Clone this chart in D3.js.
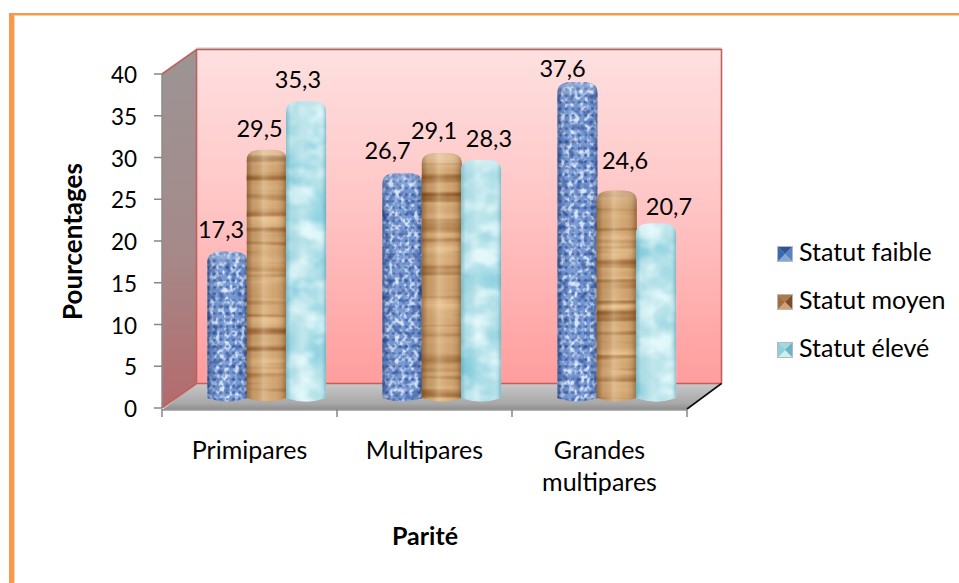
<!DOCTYPE html>
<html><head><meta charset="utf-8">
<style>html,body{margin:0;padding:0;background:#fff;overflow:hidden}svg{display:block}text{font-family:Lato,"Open Sans",sans-serif;fill:#000}</style>
<script src="https://cdn.jsdelivr.net/npm/d3@7/dist/d3.min.js"></script>
</head><body><svg id="c" width="959" height="583"></svg>
<script>
const categories = ["Primipares", "Multipares", "Grandes multipares"];
const seriesNames = ["Statut faible", "Statut moyen", "Statut élevé"];
const statutFaible = [17.3, 26.7, 37.6];
const statutMoyen = [29.5, 29.1, 24.6];
const statutEleve = [35.3, 28.3, 20.7];
const yTicks = [0, 5, 10, 15, 20, 25, 30, 35, 40];

const svg = d3.select("#c");
const defs = svg.append("defs");
const series = [statutFaible, statutMoyen, statutEleve];
const fmt = v => String(v).replace(".", ",");

// plot geometry
const L = 162, R = 687, Y0 = 408, Y40 = 74, DX = 34.5, DY = 24.5;
const y = d3.scaleLinear().domain([0, 40]).range([Y0, Y40]);
const x0 = d3.scaleBand().domain(categories).range([L, R]);
const x1 = d3.scaleBand().domain(seriesNames).range([-59, 59]);
const poly = pts => pts.map(p => p.join(",")).join(" ");

function grad(id, stops, x2, y2) {
  const g = defs.append("linearGradient").attr("id", id).attr("x1", 0).attr("y1", 0).attr("x2", x2).attr("y2", y2);
  stops.forEach(s => g.append("stop").attr("offset", s[0]).attr("stop-color", s[1]).attr("stop-opacity", s[2] === undefined ? 1 : s[2]));
}
grad("wall", [[0, "#fee0e0"], [0.45, "#ffc6c6"], [1, "#ff9d9d"]], 0, 1);
grad("side", [[0, "#9c9494"], [0.55, "#a58a8a"], [1, "#b46a6c"]], 0, 1);
grad("floor", [[0, "#c8c8c8"], [0.75, "#a8a8a8"], [1, "#8c8c8c"]], 0, 1);
grad("shadeB", [[0, "#0a1f55", 0.5], [0.13, "#0a1f55", 0.1], [0.35, "#ffffff", 0.08], [0.7, "#ffffff", 0], [0.88, "#0a1f55", 0.1], [1, "#0a1f55", 0.45]], 1, 0);
grad("shadeW", [[0, "#5a3210", 0.5], [0.16, "#5a3210", 0.1], [0.42, "#fff4dc", 0.25], [0.66, "#fff4dc", 0.04], [0.88, "#5a3210", 0.15], [1, "#5a3210", 0.5]], 1, 0);
grad("shadeT", [[0, "#3f8ea5", 0.45], [0.12, "#3f8ea5", 0.08], [0.4, "#ffffff", 0.15], [0.8, "#ffffff", 0], [0.92, "#3f8ea5", 0.12], [1, "#3f8ea5", 0.5]], 1, 0);
grad("top", [[0, "#ffffff", 0.25], [0.6, "#ffffff", 0.1], [1, "#ffffff", 0]], 0, 1);

function noise(id, type, freq, octaves, seed, rgb, k, c, blur) {
  const f = defs.append("filter").attr("id", id).attr("x", 0).attr("y", 0).attr("width", 1).attr("height", 1)
    .attr("color-interpolation-filters", "sRGB");
  f.append("feTurbulence").attr("type", type).attr("baseFrequency", freq).attr("numOctaves", octaves).attr("seed", seed);
  f.append("feColorMatrix").attr("type", "matrix")
    .attr("values", `0 0 0 0 ${rgb[0]} 0 0 0 0 ${rgb[1]} 0 0 0 0 ${rgb[2]} ${k} 0 0 0 ${c}`);
  f.append("feGaussianBlur").attr("stdDeviation", blur);
}
noise("bDark", "fractalNoise", "0.16 0.2", 2, 4, [0.14, 0.26, 0.54], 4, -2.2, 0.8);
noise("bLight", "fractalNoise", "0.2 0.16", 2, 9, [0.84, 0.9, 0.99], 5, -2.3, 0.7);
noise("wDark", "fractalNoise", "0.004 0.11", 2, 5, [0.55, 0.33, 0.13], 3, -1.5, 0.6);
noise("wLight", "fractalNoise", "0.004 0.07", 2, 11, [0.9, 0.74, 0.54], 3, -1.3, 1);
noise("tDark", "turbulence", "0.02 0.026", 2, 3, [0.55, 0.82, 0.88], 2.4, -0.35, 1);
noise("tLight", "fractalNoise", "0.035 0.045", 3, 8, [0.88, 0.97, 0.98], 3.5, -1.5, 1);

// woven dots for the blue bars
const weave = defs.append("pattern").attr("id", "weave").attr("width", 6.4).attr("height", 6.6).attr("patternUnits", "userSpaceOnUse");
weave.append("ellipse").attr("cx", 3.2).attr("cy", 3.3).attr("rx", 1.7).attr("ry", 1.4).attr("fill", "#1f3f86").attr("opacity", 0.55);
defs.append("filter").attr("id", "soft").append("feGaussianBlur").attr("stdDeviation", 0.55);

const looks = [
  { base: "#7497d3", tex: ["bLight", "bDark"], weave: true, shade: "shadeB", marker: ["#2f5597", "#5a82c2", "#86a5d8", "#3d68ad"] },
  { base: "#cfa26e", tex: ["wLight", "wDark"], shade: "shadeW", marker: ["#b07a48", "#7d4d26", "#d2a277", "#a36c3c"] },
  { base: "#b4e2e9", tex: ["tDark", "tLight"], shade: "shadeT", marker: ["#9fd9e3", "#6db3c6", "#cdeef2", "#8fcfdc"] }
];

// frame
svg.append("rect").attr("x", 9).attr("y", 13).attr("width", 5).attr("height", 570).attr("fill", "#f79a4b");
svg.append("rect").attr("x", 14).attr("y", 13).attr("width", 945).attr("height", 2.5).attr("fill", "#f79a4b");
svg.append("rect").attr("x", 14).attr("y", 15.5).attr("width", 1).attr("height", 567).attr("fill", "#fcd5b0");

// walls
svg.append("polygon").attr("fill", "url(#side)")
  .attr("points", poly([[L, y(40)], [L + DX, y(40) - DY], [L + DX, y(0) - DY], [L, y(0)]]));
svg.append("polygon").attr("fill", "url(#floor)")
  .attr("points", poly([[L, y(0) + 2], [L + DX, y(0) - DY], [R + DX, y(0) - DY], [R, y(0) + 2]]));
svg.append("rect").attr("x", L + DX).attr("y", y(40) - DY).attr("width", R - L).attr("height", y(0) - y(40))
  .attr("fill", "url(#wall)");
svg.append("path").attr("fill", "none").attr("stroke", "#c0605e").attr("stroke-width", 1.6)
  .attr("d", `M${L},${y(40)}L${L + DX},${y(40) - DY}H${R + DX}V${y(0) - DY}H${L + DX}V${y(40) - DY}M${L + DX},${y(0) - DY}L${L},${y(0)}`);
svg.append("path").attr("fill", "none").attr("stroke", "#a9a9a9").attr("stroke-width", 1)
  .attr("d", `M${L + DX},${y(40) - DY - 1.3}H${R + DX}`);
svg.append("line").attr("x1", R + DX).attr("y1", y(0) - DY).attr("x2", R).attr("y2", y(0) + 1)
  .attr("stroke", "#111").attr("stroke-width", 1.6);

// axes
const axisG = svg.append("g");
axisG.append("line").attr("x1", L).attr("x2", L).attr("y1", y(40)).attr("y2", y(0)).attr("stroke", "#8c8c8c").attr("stroke-width", 1.5);
axisG.selectAll(".yt").data(yTicks).join("line")
  .attr("x1", L - 8).attr("x2", L).attr("y1", d => y(d)).attr("y2", d => y(d)).attr("stroke", "#868686").attr("stroke-width", 1.5);
axisG.append("line").attr("x1", L).attr("x2", R).attr("y1", y(0) + 2).attr("y2", y(0) + 2).attr("stroke", "#9a9a9a").attr("stroke-width", 1.5);
const xEdges = categories.map(c => x0(c)).concat([R]);
axisG.selectAll(".xt").data(xEdges).join("line")
  .attr("x1", d => d).attr("x2", d => d).attr("y1", y(0) + 1).attr("y2", y(0) + 9).attr("stroke", "#868686").attr("stroke-width", 1.5);
axisG.selectAll(".yl").data(yTicks).join("text")
  .attr("x", L - 25).attr("y", d => y(d) + 9).attr("text-anchor", "end").attr("font-size", 22.5).text(d => d);

// bars
const barBottom = 401, barDepth = 12;
const barW = x1.bandwidth() + 1;
categories.forEach((cat, ci) => {
  const cx = x0(cat) + x0.bandwidth() / 2 + DX / 2;
  seriesNames.forEach((s, si) => {
    const v = series[si][ci], look = looks[si];
    const left = cx + x1(s) - 0.5, top = y(v) - barDepth, id = `clip${ci}${si}`;
    const rx = 15, ry = 11, by = 3;
    const d = `M${left},${barBottom - by}V${top + ry}Q${left},${top} ${left + rx},${top}H${left + barW - rx}Q${left + barW},${top} ${left + barW},${top + ry}V${barBottom - by}Q${left + barW / 2},${barBottom + by + 1} ${left},${barBottom - by}Z`;
    defs.append("clipPath").attr("id", id).append("path").attr("d", d);
    const g = svg.append("g").attr("clip-path", `url(#${id})`);
    const rect = () => g.append("rect").attr("x", left).attr("y", top).attr("width", barW).attr("height", barBottom + 3 - top);
    rect().attr("fill", look.base);
    look.tex.forEach(t => rect().attr("filter", `url(#${t})`).attr("fill", "#000"));
    if (look.weave) rect().attr("fill", "url(#weave)").attr("filter", "url(#soft)");
    rect().attr("fill", `url(#${look.shade})`);
    g.append("rect").attr("x", left).attr("y", top).attr("width", barW).attr("height", 18).attr("fill", "url(#top)");
  });
});

// value labels: nudges keep them where the reference has them
const labelNudge = [[[-6.4, -13.6], [-7.2, -12.7], [-8.1, -13.2]], [[-14.9, -14], [-7.7, -14], [7.9, -13]], [[-14.9, -5.3], [8.3, -21.6], [12.9, -8]]];
categories.forEach((cat, ci) => {
  const cx = x0(cat) + x0.bandwidth() / 2 + DX / 2;
  seriesNames.forEach((s, si) => {
    const v = series[si][ci], n = labelNudge[ci][si];
    svg.append("text").attr("x", cx + x1(s) + x1.bandwidth() / 2 + n[0]).attr("y", y(v) - barDepth + n[1])
      .attr("text-anchor", "middle").attr("font-size", 23.5).text(fmt(v));
  });
});

// category labels
const catLines = { "Grandes multipares": ["Grandes", "multipares"] };
categories.forEach(c => {
  (catLines[c] || [c]).forEach((t, i) => {
    svg.append("text").attr("x", x0(c) + x0.bandwidth() / 2).attr("y", 459 + i * 32)
      .attr("text-anchor", "middle").attr("font-size", 25).text(t);
  });
});

// axis titles
svg.append("text").attr("x", 425).attr("y", 545).attr("text-anchor", "middle").attr("font-size", 25).attr("font-weight", 700).text("Parité");
svg.append("text").attr("transform", "translate(82,241.5) rotate(-90)").attr("text-anchor", "middle").attr("font-size", 26).attr("font-weight", 700).text("Pourcentages");

// legend
const ly = d3.scalePoint().domain(seriesNames).range([254, 350]);
seriesNames.forEach((s, i) => {
  const cy = ly(s), a = 777, b = 793, t = cy - 8, u = cy + 8, mx = 785, m = looks[i].marker;
  svg.append("rect").attr("x", a).attr("y", t).attr("width", 16).attr("height", 16).attr("fill", "#b8b8b8");
  const A = a + 1, B = b - 1, T = t + 1, U = u - 1;
  [[[A, T], [B, T]], [[B, T], [B, U]], [[B, U], [A, U]], [[A, U], [A, T]]].forEach((e, k) => {
    svg.append("polygon").attr("points", poly([e[0], e[1], [mx, cy]])).attr("fill", m[k]);
  });
  svg.append("text").attr("x", 799).attr("y", cy + 6.5).attr("font-size", 25).text(s);
});
</script></body></html>
